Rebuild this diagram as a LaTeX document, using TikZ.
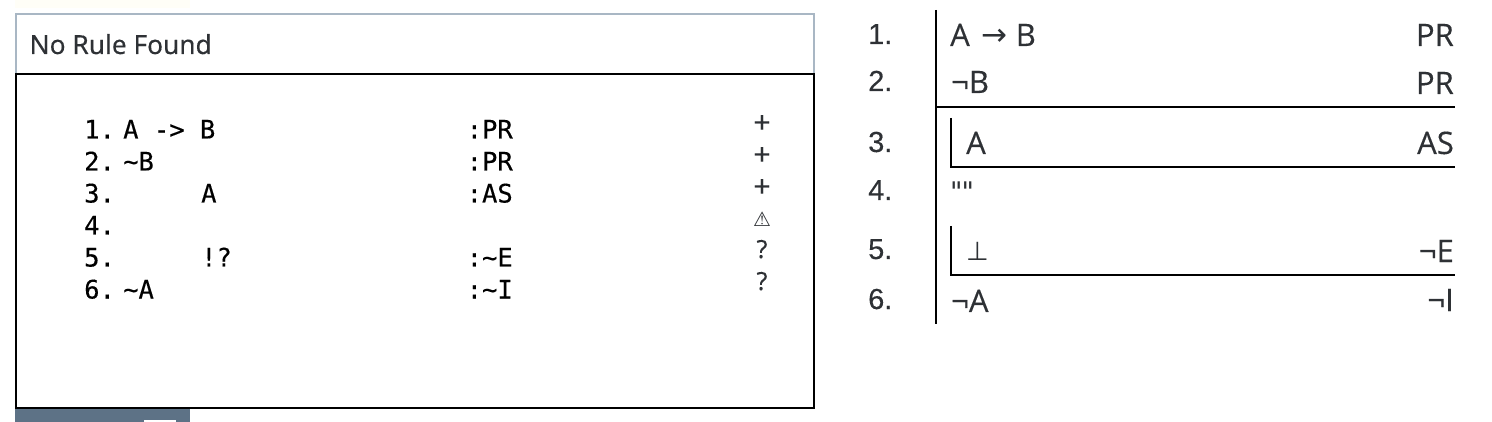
\documentclass[tikz,border=0pt]{standalone}
\usepackage{fontspec}
\setmainfont[FakeBold=0.25]{Liberation Sans}
\newfontfamily\monof[FakeBold=0.3]{DejaVu Sans Mono}
\newfontfamily\headf[FakeBold=0.25]{Noto Sans}
\newfontfamily\formf[FakeBold=0.3]{Open Sans}
\newfontfamily\symf{DejaVu Sans}
\definecolor{ink}{HTML}{2E3135}
\definecolor{slatebar}{HTML}{5D7286}
\definecolor{frameg}{HTML}{A9B7C4}
\definecolor{cream}{HTML}{FFFEF7}
\tikzset{
 x=1pt,y=-1pt,
 mono/.style={inner sep=0pt,text=black,anchor=base west,font=\monof\fontsize{25.5}{25.5}\selectfont},
 num/.style={inner sep=0pt,text=ink,anchor=base west,font=\fontsize{29}{29}\selectfont},
 form/.style={inner sep=0pt,text=ink,anchor=base west,font=\formf\fontsize{31}{31}\selectfont},
 rulelabel/.style={inner sep=0pt,text=ink,anchor=base east,font=\formf\fontsize{31}{31}\selectfont},
 plusmark/.style={inner sep=0pt,text=ink,anchor=base,font=\headf\fontsize{30}{30}\selectfont},
 askmark/.style={inner sep=0pt,text=ink,anchor=base,font=\headf\fontsize{25}{25}\selectfont},
 fitline/.style={line width=2pt,black},
}
\begin{document}
\begin{tikzpicture}
\useasboundingbox (0,0) rectangle (1492,422);
\fill[cream] (15,0) rectangle (190,8);
\fill[slatebar] (15,408) rectangle (190,422);
\fill[white] (144,420) rectangle (176,422);
% panel
\draw[frameg,line width=2pt] (16,73) -- (16,14) -- (814,14) -- (814,73);
\draw[black,line width=2pt] (16,74) rectangle (814,408);
\node[inner sep=0pt,anchor=base west,text=ink,font=\headf\fontsize{26.3}{26.3}\selectfont] (title) at (29.5,54) {No Rule Found};
% source lines
\node[mono] (n1) at (84,138.5) {1.};
\node[mono] (n2) at (84,170.5) {2.};
\node[mono] (n3) at (84,202.5) {3.};
\node[mono] (n4) at (84,234.5) {4.};
\node[mono] (n5) at (84,266.5) {5.};
\node[mono] (n6) at (84,298.5) {6.};
\node[mono] (s1) at (123,138.5) {A -> B};
\node[mono] (s2) at (123,170.5) {\string~B};
\node[mono] (s3) at (201,202.5) {A};
\node[mono] (s5) at (201,266.5) {!?};
\node[mono] (s6) at (123,298.5) {\string~A};
\node[mono] (j1) at (466.5,138.5) {:PR};
\node[mono] (j2) at (466.5,170.5) {:PR};
\node[mono] (j3) at (466.5,202.5) {:AS};
\node[mono] (j5) at (466.5,266.5) {:\string~E};
\node[mono] (j6) at (466.5,298.5) {:\string~I};
% gutter
\node[plusmark] (g1) at (762,133) {+};
\node[plusmark] (g2) at (762,165) {+};
\node[plusmark] (g3) at (762,197) {+};
\node[inner sep=0pt,anchor=base,text=ink,font=\symf\fontsize{20}{20}\selectfont] (g4) at (762,227) {⚠};
\node[askmark] (g5) at (762,258) {?};
\node[askmark] (g6) at (762,290) {?};
% proof
\node[num] (p1) at (868,44) {1.};
\node[num] (p2) at (868,91) {2.};
\node[num] (p3) at (868,152) {3.};
\node[num] (p4) at (868,200) {4.};
\node[num] (p5) at (868,259) {5.};
\node[num] (p6) at (868,309) {6.};
\draw[fitline] (936,10) -- (936,324);
\draw[fitline] (936,107) -- (1455,107);
\draw[fitline] (951,118) -- (951,167) -- (1455,167);
\draw[fitline] (951,226) -- (951,275) -- (1455,275);
\node[form] (f1) at (950,46) {A\kern 12pt{\symf\fontsize{31}{31}\selectfont →}\kern 8pt B};
\node[form] (f2) at (951,93) {¬B};
\node[form] (f3) at (966,154) {A};
\node[inner sep=0pt,anchor=base west,text=ink,font=\symf\fontsize{27}{27}\selectfont] (f4) at (950,201.5) {"\kern-1pt"};
\node[inner sep=0pt,anchor=base west,text=ink,font=\symf\fontsize{26}{26}\selectfont] (f5) at (966,261) {⊥};
\node[form] (f6) at (951,312) {¬A};
\node[rulelabel] (r1) at (1454,46) {PR};
\node[rulelabel] (r2) at (1454,94) {PR};
\node[rulelabel] (r3) at (1454,154) {AS};
\node[rulelabel] (r5) at (1454,262) {¬E};
\node[rulelabel] (r6) at (1454,311) {¬I};
\end{tikzpicture}
\end{document}
